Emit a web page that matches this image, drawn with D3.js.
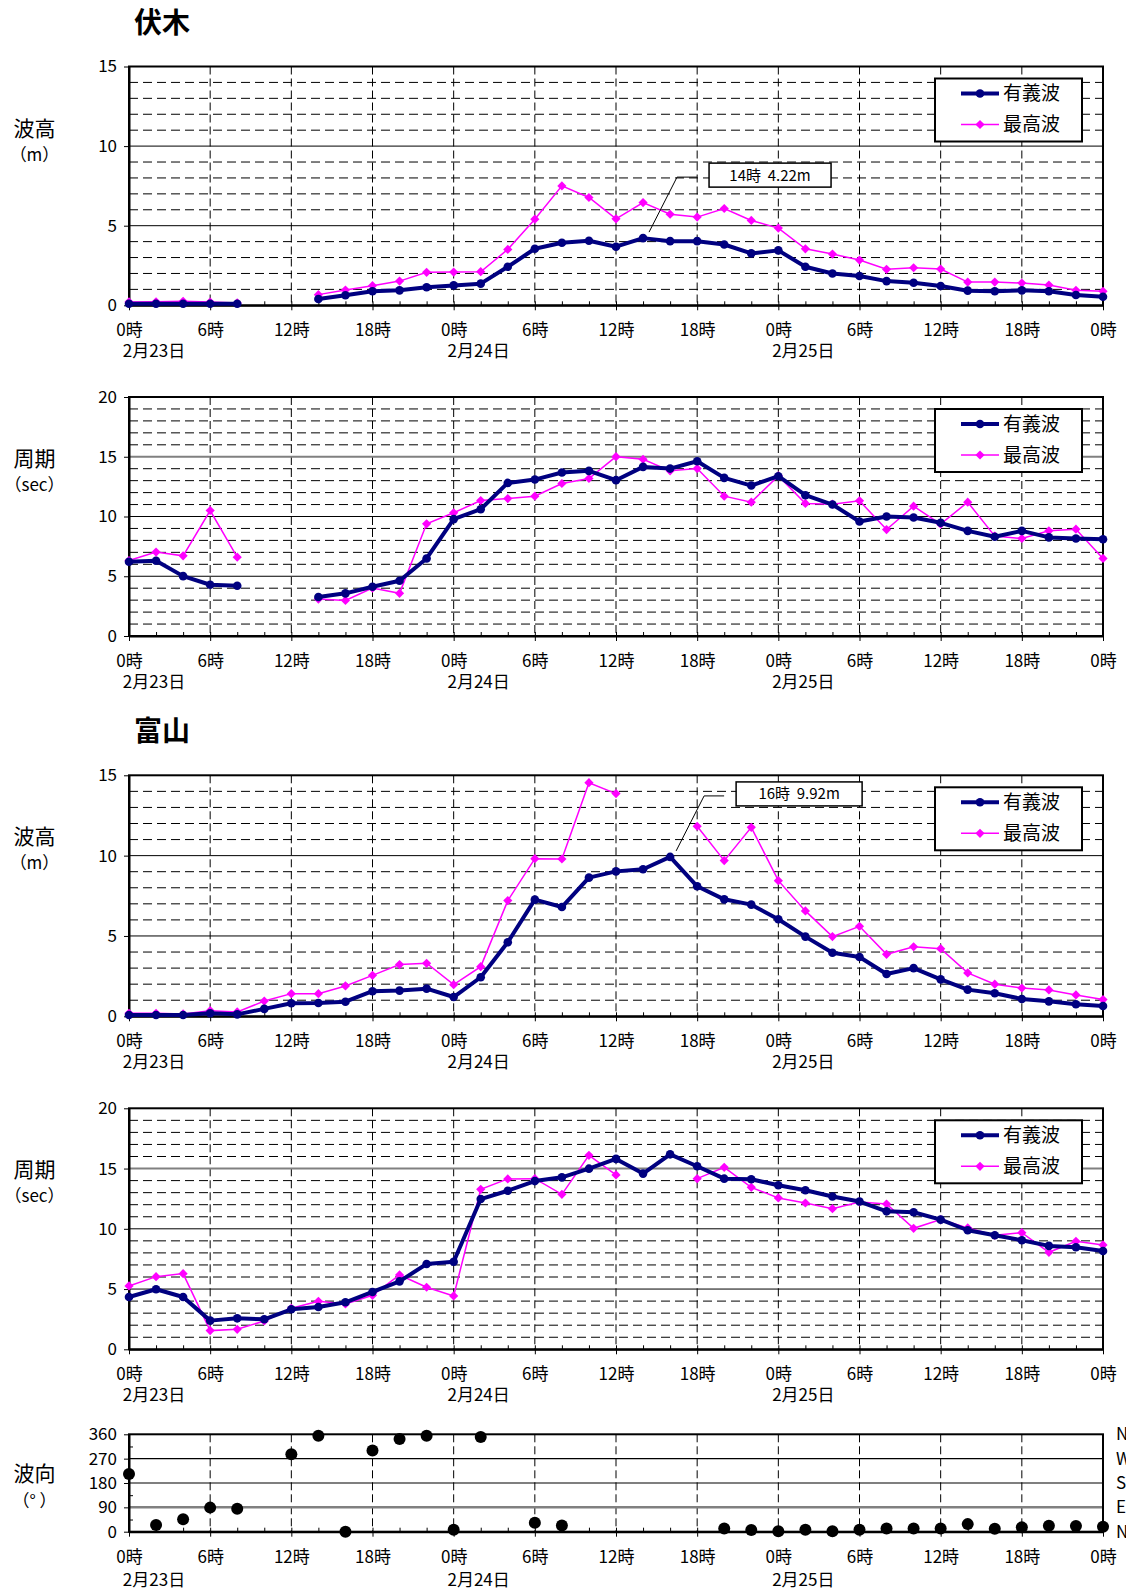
<!DOCTYPE html>
<html>
<head>
<meta charset="utf-8">
<script src="https://cdn.jsdelivr.net/npm/d3@7"></script>
<style>
body { margin: 0; background: #fff; }
text { font-family: "Noto Sans CJK JP", "Noto Sans", sans-serif; fill: #000; }
</style>
</head>
<body>
<svg id="chart" width="1126" height="1589"></svg>
<script>
// hours from 2/23 0時, every 2 hours
const hours = [0,2,4,6,8,10,12,14,16,18,20,22,24,26,28,30,32,34,36,38,40,42,44,46,48,50,52,54,56,58,60,62,64,66,68,70,72]

const tickHours = [0,6,12,18,24,30,36,42,48,54,60,66,72]
const tickLabels = ["0時","6時","12時","18時","0時","6時","12時","18時","0時","6時","12時","18時","0時"]
const dateHours = [0,24,48]
const dateLabels = ["2月23日","2月24日","2月25日"]
const seriesNames = ["有義波","最高波"]

// 伏木
const fushikiHsig = [0.1,0.1,0.1,0.1,0.1,null,null,0.4,0.63,0.88,0.94,1.13,1.25,1.36,2.42,3.55,3.93,4.05,3.68,4.22,4.03,4.03,3.82,3.26,3.45,2.42,2.0,1.84,1.52,1.42,1.21,0.92,0.88,0.94,0.88,0.65,0.54]
const fushikiHmax = [0.21,0.22,0.25,0.2,0.15,null,null,0.67,0.96,1.23,1.52,2.07,2.09,2.11,3.51,5.41,7.5,6.77,5.43,6.45,5.72,5.54,6.08,5.33,4.85,3.55,3.22,2.84,2.26,2.36,2.28,1.46,1.46,1.4,1.27,0.94,0.88]
const fushikiTsig = [6.21,6.3,5.01,4.29,4.2,null,null,3.26,3.57,4.12,4.62,6.49,9.78,10.61,12.81,13.09,13.68,13.82,13.04,14.15,14.01,14.62,13.23,12.59,13.37,11.78,11.0,9.58,10.0,9.92,9.47,8.8,8.3,8.8,8.25,8.16,8.1]
const fushikiTmax = [6.32,7.02,6.71,10.5,6.6,null,null,3.09,2.98,4.01,3.57,9.39,10.31,11.34,11.5,11.7,12.76,13.18,15.01,14.79,13.82,14.01,11.7,11.2,13.4,11.09,11.03,11.31,8.91,10.86,9.36,11.2,8.36,8.16,8.8,8.94,6.49]

// 富山
const toyamaHsig = [0.08,0.08,0.08,0.19,0.12,0.46,0.81,0.83,0.91,1.56,1.6,1.72,1.2,2.43,4.61,7.26,6.8,8.63,9.02,9.15,9.92,8.09,7.28,6.95,6.04,4.96,3.96,3.69,2.63,3.0,2.3,1.66,1.43,1.08,0.93,0.75,0.64]
const toyamaHmax = [0.19,0.19,0.15,0.35,0.27,0.95,1.41,1.41,1.89,2.55,3.22,3.3,1.97,3.09,7.2,9.81,9.79,14.54,13.86,null,null,11.83,9.69,11.76,8.44,6.56,4.96,5.6,3.86,4.33,4.21,2.7,2.0,1.76,1.64,1.33,1.04]
const toyamaTsig = [4.34,4.98,4.34,2.38,2.57,2.49,3.32,3.51,3.9,4.76,5.64,7.08,7.27,12.47,13.16,13.96,14.27,14.99,15.8,14.58,16.18,15.19,14.16,14.11,13.61,13.2,12.68,12.26,11.45,11.37,10.76,9.88,9.46,9.05,8.58,8.47,8.16]
const toyamaTmax = [5.26,6.03,6.28,1.55,1.66,2.35,3.4,3.98,3.76,4.48,6.17,5.15,4.43,13.28,14.14,14.16,12.86,16.1,14.47,null,null,14.16,15.1,13.44,12.56,12.14,11.67,12.23,12.06,10.04,10.76,10.07,9.46,9.68,8.05,8.96,8.66]
const toyamaDir = [213,25,46,89,85,null,286,355,0,300,343,355,7,350,null,33,23,null,null,null,null,null,12,6,2,7,2,7,12,12,12,28,11,16,22,21,18]

const dirTicks = [0,90,180,270,360]
const dirNames = ["N","E","S","W","N"]

const navy = "#000080"
const magenta = "#ff00ff"

let svg = d3.select("#chart")
const left = 129, right = 1103
let x = d3.scaleLinear().domain([0, 72]).range([left, right])

const diamond = (r) => "M0," + (-r) + "L" + r + ",0L0," + r + "L" + (-r) + ",0Z"

function xAxes(g, bottom, datePad) {
    // minor ticks every 2h, inside
    g.append("g")
        .attr("transform", "translate(0," + bottom + ")")
        .call(d3.axisBottom(x).tickValues(hours).tickSize(-4).tickSizeOuter(0).tickFormat(""))
        .call(a => a.select(".domain").remove())
    let ax = g.append("g")
        .attr("transform", "translate(0," + bottom + ")")
        .call(d3.axisBottom(x).tickValues(tickHours).tickSize(5).tickPadding(14).tickSizeOuter(0)
            .tickFormat((d, i) => tickLabels[i]))
    ax.select(".domain").attr("stroke-width", 2)
    ax.selectAll("text").attr("font-size", 17)
    ax.attr("font-family", null)

    g.selectAll(".date")
        .data(dateHours)
        .enter()
        .append("text")
        .attr("x", (d) => x(d) + 25)
        .attr("y", bottom + datePad)
        .attr("text-anchor", "middle")
        .attr("font-size", 17)
        .text((d, i) => dateLabels[i])
}

function gridV(g, top, bottom) {
    g.selectAll(".vgrid")
        .data(tickHours.slice(1, -1))
        .enter()
        .append("line")
        .attr("x1", (d) => x(d)).attr("x2", (d) => x(d))
        .attr("y1", top).attr("y2", bottom)
        .attr("stroke", "#000")
        .attr("stroke-width", 1)
        .attr("stroke-dasharray", "8,4")
}

function drawPanel(p) {
    let g = svg.append("g")
    let y = d3.scaleLinear().domain(p.domain).range([p.bottom, p.top])

    if (p.title) {
        g.append("text")
            .attr("x", 134)
            .attr("y", p.titleY)
            .attr("font-size", 28)
            .attr("font-weight", "bold")
            .text(p.title)
    }

    g.append("text").attr("x", 34.5).attr("y", p.top + 69)
        .attr("text-anchor", "middle").attr("font-size", 21).text(p.label[0])
    g.append("text").attr("x", 34.5).attr("y", p.top + 94)
        .attr("text-anchor", "middle").attr("font-size", 17).text(p.label[1])

    // dashed minor gridlines
    let minor = d3.range(p.domain[0] + 1, p.domain[1], 1).filter(v => v % 5 != 0)
    g.selectAll(".hminor")
        .data(minor)
        .enter()
        .append("line")
        .attr("x1", left).attr("x2", right)
        .attr("y1", (d) => y(d)).attr("y2", (d) => y(d))
        .attr("stroke", "#000")
        .attr("stroke-width", 1)
        .attr("stroke-dasharray", "9,5")

    gridV(g, p.top, p.bottom)

    g.selectAll(".hmajor")
        .data(p.major.slice(1, -1))
        .enter()
        .append("line")
        .attr("x1", left).attr("x2", right)
        .attr("y1", (d) => y(d)).attr("y2", (d) => y(d))
        .attr("stroke", (d) => d == p.greyLine ? "#808080" : "#000")
        .attr("stroke-width", (d) => d == p.greyLine ? 2 : 1)

    g.append("rect")
        .attr("x", left).attr("y", p.top)
        .attr("width", right - left).attr("height", p.bottom - p.top)
        .attr("fill", "none").attr("stroke", "#000").attr("stroke-width", 2)

    let ay = g.append("g")
        .attr("transform", "translate(" + left + ",0)")
        .call(d3.axisLeft(y).tickValues(p.major).tickSize(5).tickPadding(7).tickSizeOuter(0))
    ay.select(".domain").attr("stroke-width", 2)
    ay.selectAll("text").attr("font-size", 17)
    ay.attr("font-family", null)

    xAxes(g, p.bottom, 52)

    let sig = hours.map((h, i) => ({h: h, v: p.sig[i]}))
    let mx = hours.map((h, i) => ({h: h, v: p.max[i]}))

    let line = d3.line()
        .defined((d) => d.v != null)
        .x((d) => x(d.h))
        .y((d) => y(d.v))

    g.append("path").datum(mx)
        .attr("fill", "none").attr("stroke", magenta).attr("stroke-width", 1.5)
        .attr("d", line)
    g.selectAll(".dmax")
        .data(mx.filter(d => d.v != null))
        .enter()
        .append("path")
        .attr("transform", (d) => "translate(" + x(d.h) + "," + y(d.v) + ")")
        .attr("d", diamond(4.6))
        .attr("fill", magenta)

    g.append("path").datum(sig)
        .attr("fill", "none").attr("stroke", navy).attr("stroke-width", 4)
        .attr("stroke-linejoin", "round")
        .attr("d", line)
    g.selectAll(".dsig")
        .data(sig.filter(d => d.v != null))
        .enter()
        .append("circle")
        .attr("cx", (d) => x(d.h)).attr("cy", (d) => y(d.v))
        .attr("r", 4.3)
        .attr("fill", navy)

    // legend
    let lt = p.top + 12
    let lg = g.append("g")
    lg.append("rect")
        .attr("x", 935).attr("y", lt).attr("width", 147).attr("height", 63)
        .attr("fill", "#fff").attr("stroke", "#000").attr("stroke-width", 2)
    lg.append("line").attr("x1", 961).attr("x2", 999).attr("y1", lt + 15).attr("y2", lt + 15)
        .attr("stroke", navy).attr("stroke-width", 4)
    lg.append("circle").attr("cx", 980).attr("cy", lt + 15).attr("r", 4.3).attr("fill", navy)
    lg.append("line").attr("x1", 961).attr("x2", 999).attr("y1", lt + 46).attr("y2", lt + 46)
        .attr("stroke", magenta).attr("stroke-width", 1.5)
    lg.append("path").attr("transform", "translate(980," + (lt + 46) + ")")
        .attr("d", diamond(4.6)).attr("fill", magenta)
    lg.append("text").attr("x", 1003).attr("y", lt + 15).attr("dy", "0.36em")
        .attr("font-size", 19).text(seriesNames[0])
    lg.append("text").attr("x", 1003).attr("y", lt + 46).attr("dy", "0.36em")
        .attr("font-size", 19).text(seriesNames[1])

    if (p.note) {
        let px = x(p.note.hour), py = y(p.note.value)
        g.append("path")
            .attr("d", "M" + (px + 6) + "," + (py - 6) + "L" + (px + 34) + "," + (py - 61) + "L" + (px + 54) + "," + (py - 61))
            .attr("fill", "none").attr("stroke", "#000").attr("stroke-width", 1)
        g.append("rect")
            .attr("x", px + 66).attr("y", py - 75)
            .attr("width", p.note.w).attr("height", 24)
            .attr("fill", "#fff").attr("stroke", "#000").attr("stroke-width", 1.5)
        g.append("text")
            .attr("x", px + 66 + p.note.w / 2).attr("y", py - 63)
            .attr("dy", "0.36em").attr("text-anchor", "middle")
            .attr("font-size", 15)
            .text(p.note.text)
    }
}

drawPanel({title: "伏木", titleY: 33, label: ["波高", "（m）"], top: 66.5, bottom: 305.3,
    domain: [0, 15], major: [0, 5, 10, 15], sig: fushikiHsig, max: fushikiHmax,
    note: {hour: 38, value: 4.22, text: "14時\u00a0\u00a04.22m", w: 122}})
drawPanel({label: ["周期", "（sec）"], top: 397, bottom: 636, greyLine: 15,
    domain: [0, 20], major: [0, 5, 10, 15, 20], sig: fushikiTsig, max: fushikiTmax})
drawPanel({title: "富山", titleY: 741, label: ["波高", "（m）"], top: 775.3, bottom: 1016.3,
    domain: [0, 15], major: [0, 5, 10, 15], sig: toyamaHsig, max: toyamaHmax,
    note: {hour: 40, value: 9.92, text: "16時\u00a0\u00a09.92m", w: 126}})
drawPanel({label: ["周期", "（sec）"], top: 1108.3, bottom: 1349.3, greyLine: 15,
    domain: [0, 20], major: [0, 5, 10, 15, 20], sig: toyamaTsig, max: toyamaTmax})

// 波向
let dTop = 1434.3, dBottom = 1531.7
let yd = d3.scaleLinear().domain([0, 360]).range([dBottom, dTop])
let gd = svg.append("g")

gd.append("text").attr("x", 34.5).attr("y", dTop + 47)
    .attr("text-anchor", "middle").attr("font-size", 21).text("波向")
gd.append("text").attr("x", 34.5).attr("y", dTop + 73)
    .attr("text-anchor", "middle").attr("font-size", 17).text("（°\u00a0）")

gridV(gd, dTop, dBottom)

gd.selectAll(".dgrid")
    .data([90, 180, 270])
    .enter()
    .append("line")
    .attr("x1", left).attr("x2", right)
    .attr("y1", (d) => yd(d)).attr("y2", (d) => yd(d))
    .attr("stroke", (d) => d == 90 ? "#808080" : "#000")
    .attr("stroke-width", (d) => d == 90 ? 2.5 : 1.2)

gd.append("rect")
    .attr("x", left).attr("y", dTop)
    .attr("width", right - left).attr("height", dBottom - dTop)
    .attr("fill", "none").attr("stroke", "#000").attr("stroke-width", 2)

gd.append("g")
    .attr("transform", "translate(" + left + ",0)")
    .call(d3.axisLeft(yd).tickValues([45, 135, 225, 315]).tickSize(-4).tickSizeOuter(0).tickFormat(""))
    .call(a => a.select(".domain").remove())
let ayd = gd.append("g")
    .attr("transform", "translate(" + left + ",0)")
    .call(d3.axisLeft(yd).tickValues(dirTicks).tickSize(5).tickPadding(7).tickSizeOuter(0))
ayd.select(".domain").attr("stroke-width", 2)
ayd.selectAll("text").attr("font-size", 17)
ayd.attr("font-family", null)

gd.selectAll(".dname")
    .data(dirTicks)
    .enter()
    .append("text")
    .attr("x", 1116)
    .attr("y", (d) => yd(d))
    .attr("dy", "0.36em")
    .attr("font-size", 17)
    .text((d, i) => dirNames[i])

xAxes(gd, dBottom, 54)

gd.selectAll(".dot")
    .data(hours.map((h, i) => ({h: h, v: toyamaDir[i]})).filter(d => d.v != null))
    .enter()
    .append("circle")
    .attr("cx", (d) => x(d.h))
    .attr("cy", (d) => yd(d.v))
    .attr("r", 6)
    .attr("fill", "#000")
</script>
</body>
</html>
